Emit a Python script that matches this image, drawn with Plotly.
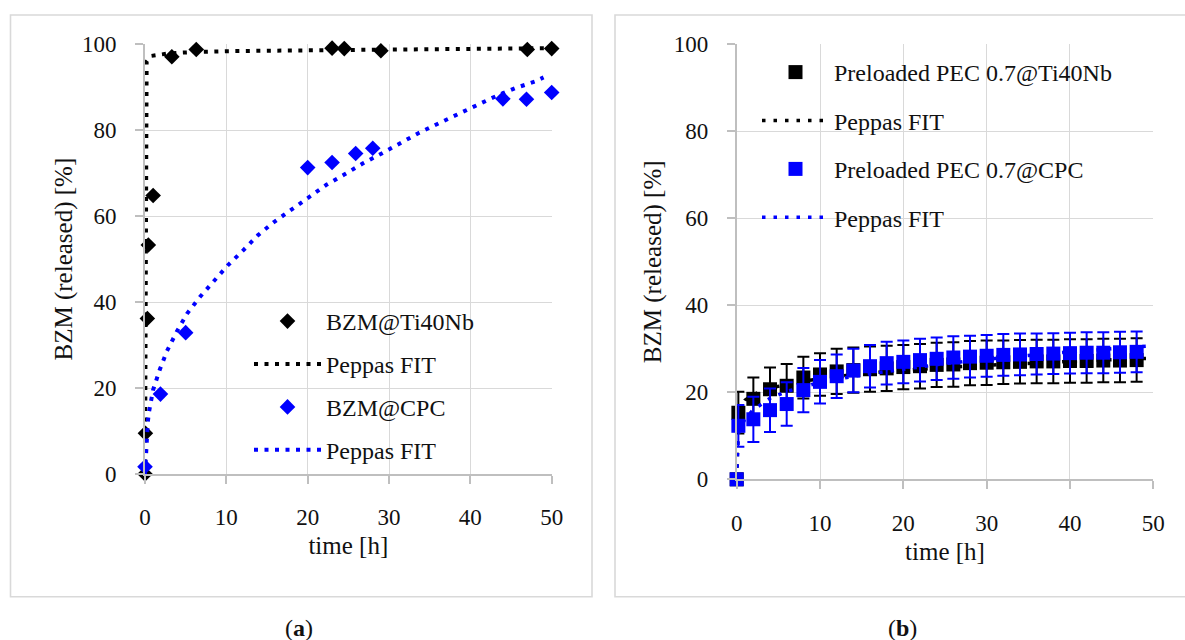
import plotly.graph_objects as go

# ---------------- data ----------------
# (a) BZM release from Ti40Nb and CPC
t_ti = [0, 0.05, 0.29, 0.41, 1.0, 3.3, 6.3, 23.0, 24.5, 29.0, 47.0, 50.0]
y_ti = [0, 9.5, 36.2, 53.3, 64.8, 97.1, 98.8, 99.1, 99.0, 98.5, 98.8, 99.0]

t_ti_fit = [0, 0.2, 0.8, 3.0, 6.0, 10.0, 20.0, 25.0, 30.0, 40.0, 50.0]
y_ti_fit = [0, 96.0, 97.3, 97.9, 98.2, 98.4, 98.6, 98.7, 98.8, 99.0, 99.1]

t_cpc = [0, 1.9, 5.0, 20.0, 23.0, 25.9, 28.0, 44.0, 46.9, 50.0]
y_cpc = [1.7, 18.6, 32.9, 71.3, 72.5, 74.6, 75.8, 87.3, 87.2, 88.8]

t_cpc_fit = [0, 0.1, 0.2, 0.35, 0.5, 0.75, 1.0, 1.8, 2.7, 3.9, 5.2, 6.8, 8.5, 10.2,
             12.1, 13.9, 15.9, 18.0, 20.1, 22.3, 24.6, 26.8, 29.1, 31.4, 33.6,
             36.1, 38.3, 40.8, 43.0, 45.5, 47.9, 49.0]
y_cpc_fit = [0, 4.8, 7.1, 12.2, 14.5, 17.2, 19.6, 24.2, 28.6, 33.1, 37.4, 41.3, 44.8, 48.6,
             52.1, 55.6, 58.7, 61.6, 64.5, 67.3, 69.8, 72.3, 74.6, 77.0, 79.3,
             81.6, 83.6, 85.9, 87.8, 89.8, 91.3, 92.3]

# (b) preloaded PEC 0.7 coatings
t_pec = [0, 0.2, 2, 4, 6, 8, 10, 12, 14, 16, 18, 20, 22, 24, 26, 28, 30,
         32, 34, 36, 38, 40, 42, 44, 46, 48]
y_pec_ti = [0, 15.3, 18.5, 20.7, 21.5, 23.4, 24.1, 24.8, 25.1, 25.3, 25.5, 25.8, 26.0,
            26.3, 26.4, 26.7, 26.8, 26.9, 27.0, 27.1, 27.1, 27.2, 27.2, 27.3, 27.3, 27.4]
e_pec_ti = [0, 4.8, 4.9, 5.0, 5.0, 4.8, 4.9, 5.2, 5.2, 5.2, 5.2, 5.1, 5.1,
            5.1, 5.1, 5.1, 5.1, 5.0, 5.0, 5.0, 5.0, 5.0, 5.0, 5.0, 5.0, 5.0]
y_pec_cpc = [0, 12.3, 13.8, 15.9, 17.3, 20.5, 22.4, 23.7, 25.0, 26.0, 26.7, 27.0, 27.4,
             27.7, 28.0, 28.2, 28.4, 28.6, 28.7, 28.8, 28.9, 29.0, 29.1, 29.1, 29.2, 29.3]
e_pec_cpc = [0, 4.8, 5.2, 5.0, 5.0, 5.1, 5.0, 5.0, 5.0, 4.9, 4.9, 4.9, 4.9,
             4.9, 4.9, 4.8, 4.8, 4.8, 4.8, 4.7, 4.7, 4.7, 4.7, 4.7, 4.7, 4.7]

t_pec_ti_fit = [0, 0.2, 1, 2, 4, 6, 10, 15, 20, 25, 30, 35, 40, 45, 49.2]
y_pec_ti_fit = [0, 15.5, 18.2, 19.5, 21.0, 21.8, 23.2, 24.3, 25.1, 25.7, 26.2, 26.7, 27.1, 27.5, 27.8]
t_pec_cpc_fit = [0, 0.2, 0.5, 1, 2, 4, 6, 10, 15, 20, 25, 30, 35, 40, 45, 49.3]
y_pec_cpc_fit = [0, 10.5, 12.0, 13.9, 16.0, 18.6, 20.2, 22.3, 24.0, 25.4, 26.6, 27.6, 28.5, 29.3, 30.0, 30.6]

# ---------------- styling ----------------
W, H = 1185, 640
FONT = "Liberation Serif"
TXT = "#111111"
GRID = "#d9d9d9"
AXL = "#bfbfbf"
BLUE = "#0000ff"
BLACK = "#000000"


def fx(p):
    return p / W


def fy(p):
    return 1 - p / H


fig = go.Figure()

# ---- panel (a) ----
fig.add_trace(go.Scatter(
    x=t_ti, y=y_ti, mode="markers", name="BZM@Ti40Nb",
    marker=dict(symbol="diamond", size=12, color=BLACK),
    xaxis="x", yaxis="y", legend="legend", legendgroup="a1", cliponaxis=False))
fig.add_trace(go.Scatter(
    x=t_ti_fit, y=y_ti_fit, mode="lines", name="Peppas FIT",
    line=dict(color=BLACK, width=4, dash="4px,6.5px"),
    xaxis="x", yaxis="y", legend="legend", legendgroup="a2", cliponaxis=False))
fig.add_trace(go.Scatter(
    x=t_cpc, y=y_cpc, mode="markers", name="BZM@CPC",
    marker=dict(symbol="diamond", size=12, color=BLUE),
    xaxis="x", yaxis="y", legend="legend", legendgroup="a3", cliponaxis=False))
fig.add_trace(go.Scatter(
    x=t_cpc_fit, y=y_cpc_fit, mode="lines", name="Peppas FIT",
    line=dict(color=BLUE, width=4, dash="4px,6.5px"),
    xaxis="x", yaxis="y", legend="legend", legendgroup="a4", cliponaxis=False))

# ---- panel (b) ----
fig.add_trace(go.Scatter(
    x=t_pec, y=y_pec_ti, mode="markers", name="Preloaded PEC 0.7@Ti40Nb",
    marker=dict(symbol="square", size=14, color=BLACK),
    error_y=dict(type="data", array=e_pec_ti, color=BLACK, thickness=2, width=6),
    xaxis="x2", yaxis="y2", legend="legend2", legendgroup="b1", cliponaxis=False))
fig.add_trace(go.Scatter(
    x=t_pec_ti_fit, y=y_pec_ti_fit, mode="lines", name="Peppas FIT",
    line=dict(color=BLACK, width=3.5, dash="3.5px,8px"),
    xaxis="x2", yaxis="y2", legend="legend2", legendgroup="b2", cliponaxis=False))
fig.add_trace(go.Scatter(
    x=t_pec, y=y_pec_cpc, mode="markers", name="Preloaded PEC 0.7@CPC",
    marker=dict(symbol="square", size=14, color=BLUE),
    error_y=dict(type="data", array=e_pec_cpc, color=BLUE, thickness=2, width=6),
    xaxis="x2", yaxis="y2", legend="legend2", legendgroup="b3", cliponaxis=False))
fig.add_trace(go.Scatter(
    x=t_pec_cpc_fit, y=y_pec_cpc_fit, mode="lines", name="Peppas FIT",
    line=dict(color=BLUE, width=3.5, dash="3.5px,8px"),
    xaxis="x2", yaxis="y2", legend="legend2", legendgroup="b4", cliponaxis=False))

axis_common = dict(
    automargin=False,
    showgrid=True, gridcolor=GRID, gridwidth=1.3,
    showline=True, linecolor=AXL, linewidth=1.6,
    ticks="outside", ticklen=8, tickcolor=AXL, tickwidth=1.6,
    zeroline=False, fixedrange=True,
    tickfont=dict(family=FONT, size=23, color=TXT),
    ticklabelstandoff=14,
    title_font=dict(family=FONT, size=25, color=TXT),
)

fig.update_layout(
    width=W, height=H,
    margin=dict(l=0, r=0, t=0, b=0, autoexpand=False),
    paper_bgcolor="white", plot_bgcolor="white",
    font=dict(family=FONT, color=TXT),
    xaxis=dict(domain=[fx(145), fx(551.7)], range=[0, 50], dtick=10, anchor="y",
               title=dict(text="time [h]", standoff=7), **axis_common),
    yaxis=dict(domain=[fy(474), fy(44.3)], range=[0, 100], dtick=20, anchor="x",
               title=dict(text="BZM (released) [%]", standoff=2), **axis_common),
    xaxis2=dict(domain=[fx(736.7), fx(1153.3)], range=[0, 50], dtick=10, anchor="y2",
                title=dict(text="time [h]", standoff=8), **axis_common),
    yaxis2=dict(domain=[fy(479.3), fy(44.3)], range=[0, 100], dtick=20, anchor="x2",
                title=dict(text="BZM (released) [%]", standoff=5), **axis_common),
    legend=dict(x=fx(249), y=fy(299), xanchor="left", yanchor="top",
                bgcolor="rgba(0,0,0,0)", itemwidth=67, traceorder="grouped",
                tracegroupgap=8.7, font=dict(family=FONT, size=24, color=TXT),
                itemsizing="trace"),
    legend2=dict(x=fx(757), y=fy(50), xanchor="left", yanchor="top",
                 bgcolor="rgba(0,0,0,0)", itemwidth=67, traceorder="grouped",
                 tracegroupgap=14.2, font=dict(family=FONT, size=24, color=TXT),
                 itemsizing="trace"),
    showlegend=True,
)

# panel frames
fig.add_shape(type="rect", xref="paper", yref="paper",
              x0=fx(10.5), x1=fx(592), y0=fy(596.7), y1=fy(15),
              line=dict(color=GRID, width=1.6), layer="below")
fig.add_shape(type="rect", xref="paper", yref="paper",
              x0=fx(615), x1=fx(1195), y0=fy(596.7), y1=fy(15),
              line=dict(color=GRID, width=1.6), layer="below")

# panel captions
fig.add_annotation(text="(<b>a</b>)", x=fx(299), y=fy(628), xref="paper", yref="paper",
                   xanchor="center", yanchor="middle",
                   showarrow=False, font=dict(family=FONT, size=24, color=TXT))
fig.add_annotation(text="(<b>b</b>)", x=fx(902), y=fy(628), xref="paper", yref="paper",
                   xanchor="center", yanchor="middle",
                   showarrow=False, font=dict(family=FONT, size=24, color=TXT))

fig.write_html("out.html")
